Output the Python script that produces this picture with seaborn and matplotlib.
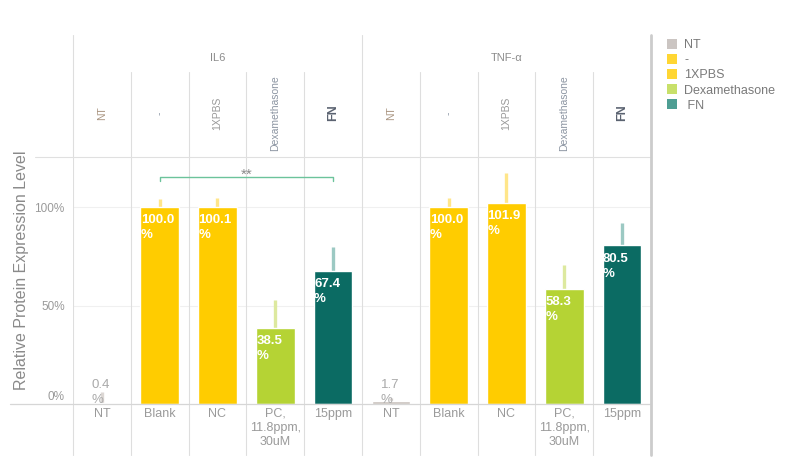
import numpy as np
import pandas as pd
import seaborn as sns
import matplotlib.pyplot as plt
import matplotlib.transforms as mtransforms
from matplotlib.patches import Patch
from matplotlib.lines import Line2D

# Data
targets = ["IL6", "TNF-α"]
treatments = ["NT", "-", "1XPBS", "Dexamethasone", "FN"]
conditions = ["NT", "Blank", "NC", "PC,\n11.8ppm,\n30uM", "15ppm"]
il6_values = [0.4, 100.0, 100.1, 38.5, 67.4]
tnf_values = [1.7, 100.0, 101.9, 58.3, 80.5]
il6_err = [5.6, 4.0, 4.5, 14.3, 12.3]
tnf_err = [1.5, 4.6, 15.4, 12.3, 11.4]

bar_colors = {"NT": "#c9c1bd", "-": "#ffcc00", "1XPBS": "#ffcc00",
              "Dexamethasone": "#b5d334", "FN": "#0b6b63"}
err_colors = {"NT": "#dcd7d4", "-": "#ffe68a", "1XPBS": "#ffe68a",
              "Dexamethasone": "#dde99f", "FN": "#9cc9c3"}
legend_colors = {"NT": "#cbc5c2", "-": "#ffd633", "1XPBS": "#ffd633",
                 "Dexamethasone": "#c8e06a", "FN": "#4e9e93"}
header_colors = {"NT": "#a8937f", "-": "#8f9aa8", "1XPBS": "#999999",
                 "Dexamethasone": "#8c95a2", "FN": "#5a6270"}

rows = []
for t, vals, errs in [(targets[0], il6_values, il6_err), (targets[1], tnf_values, tnf_err)]:
    for tr, cond, v, e in zip(treatments, conditions, vals, errs):
        rows.append({"col": f"{t}|{tr}", "target": t, "treatment": tr,
                     "condition": cond, "value": v, "err": e})
df = pd.DataFrame(rows)
order = list(df["col"])

sns.set_style("white")
plt.rcParams["font.family"] = ["Liberation Sans", "DejaVu Sans"]

W, H = 804, 469
fig = plt.figure(figsize=(W / 100, H / 100), dpi=100)

def fx(px):
    return px / W

def fy(py):
    return 1 - py / H

left, right, top_hdr, top_plot, base, bottom = 73, 651, 35, 157, 404, 455
ymax = (base - top_plot) / 1.97

ax = fig.add_axes([fx(left), fy(base), fx(right - left), (base - top_plot) / H])
sns.barplot(data=df, x="col", y="value", hue="treatment", order=order,
            hue_order=treatments, palette=bar_colors, dodge=False, width=0.67,
            saturation=1, legend=False, ax=ax, zorder=3)

for i, r in df.iterrows():
    ax.vlines(i, r["value"], r["value"] + r["err"], colors=err_colors[r["treatment"]],
              lw=2.4, zorder=2)
    if r["treatment"] == "NT":
        ax.text(i - 0.02, -0.8, f"{r['value']:.1f}\n%", ha="center", va="bottom",
                multialignment="left", color="#a9a9a9", fontsize=9.5,
                linespacing=1.3, zorder=4)
    else:
        ax.text(i - 0.33, r["value"] - 3.6, f"{r['value']:.1f}\n%", ha="left",
                va="top", color="white", fontsize=9.5, fontweight="bold",
                linespacing=1.35, zorder=4)

ax.set_xlim(-0.5, 9.5)
ax.set_ylim(0, ymax)
ax.set_xticks([])
ax.set_xlabel("")
ax.set_ylabel("")
ax.set_yticks([0, 50, 100])
ax.set_yticklabels(["0%", "50%", "100%"], color="#9a9a9a", fontsize=8.5)
ax.tick_params(axis="y", length=0, pad=6)
zero_lbl = ax.get_yticklabels()[0]
zero_lbl.set_transform(zero_lbl.get_transform() +
                       mtransforms.ScaledTranslation(0, 6 / 72, fig.dpi_scale_trans))
for s in ax.spines.values():
    s.set_visible(False)
for y in [50, 100]:
    ax.axhline(y, color="#f0f0f0", lw=0.8, zorder=0)
for k in range(10):
    ax.axvline(k - 0.5, color="#dedede", lw=0.8, zorder=1)

# significance bracket
ax.plot([1, 1, 4, 4], [113.2, 115.2, 115.2, 113.2], color="#6cc39b", lw=1,
        clip_on=False, zorder=4)
ax.text(2.5, 116.4, "**", ha="center", va="center", color="#8a8a8a", fontsize=11)

# header panel
hax = fig.add_axes([fx(left), fy(top_plot), fx(right - left), (top_plot - top_hdr) / H])
hax.set_xlim(-0.5, 9.5)
hax.set_ylim(0, 1)
hax.axis("off")
for g, t in enumerate(targets):
    hax.text(g * 5 + 2, 0.81, t, ha="center", va="center", color="#8c8c8c", fontsize=8)
for k, r in df.iterrows():
    bold = r["treatment"] == "FN"
    hax.text(k, 0.36, r["treatment"], rotation=90, ha="center", va="center",
             color=header_colors[r["treatment"]], fontsize=9 if bold else 7.5,
             fontweight="bold" if bold else "normal")
for k in range(10):
    x = k - 0.5
    if k in (0, 5):
        hax.plot([x, x], [0, 1], color="#dedede", lw=0.8, clip_on=False)
    else:
        hax.plot([x, x], [0, 0.70], color="#dedede", lw=0.8, clip_on=False)

# bottom label panel
bax = fig.add_axes([fx(left), fy(bottom), fx(right - left), (bottom - base) / H])
bax.set_xlim(-0.5, 9.5)
bax.set_ylim(0, 1)
bax.axis("off")
for k, r in df.iterrows():
    bax.text(k, 0.93, r["condition"], ha="center", va="top", color="#9a9a9a",
             fontsize=9, linespacing=1.25)
for k in range(10):
    bax.plot([k - 0.5] * 2, [0, 1], color="#dedede", lw=0.8, clip_on=False)

# frame lines
fig.add_artist(Line2D([fx(35), fx(right)], [fy(top_plot)] * 2, color="#e0e0e0", lw=0.8))
fig.add_artist(Line2D([fx(10), fx(right)], [fy(base)] * 2, color="#d6d6d6", lw=0.9))
fig.add_artist(Line2D([fx(right)] * 2, [fy(top_hdr), fy(bottom)], color="#cccccc", lw=2))

fig.text(fx(22), fy(270), "Relative Protein Expression Level", rotation=90,
         ha="center", va="center", color="#8a8a8a", fontsize=11.5)

handles = [Patch(facecolor=legend_colors[t], edgecolor="none") for t in treatments]
labels = ["NT", "-", "1XPBS", "Dexamethasone", " FN"]
fig.legend(handles, labels, loc="upper left", bbox_to_anchor=(fx(662), fy(34)),
           frameon=False, fontsize=9, handlelength=0.8, handleheight=0.8,
           labelspacing=0.24, handletextpad=0.6, labelcolor="#7a7a7a",
           borderaxespad=0)

fig.savefig("out.png", dpi=100)
